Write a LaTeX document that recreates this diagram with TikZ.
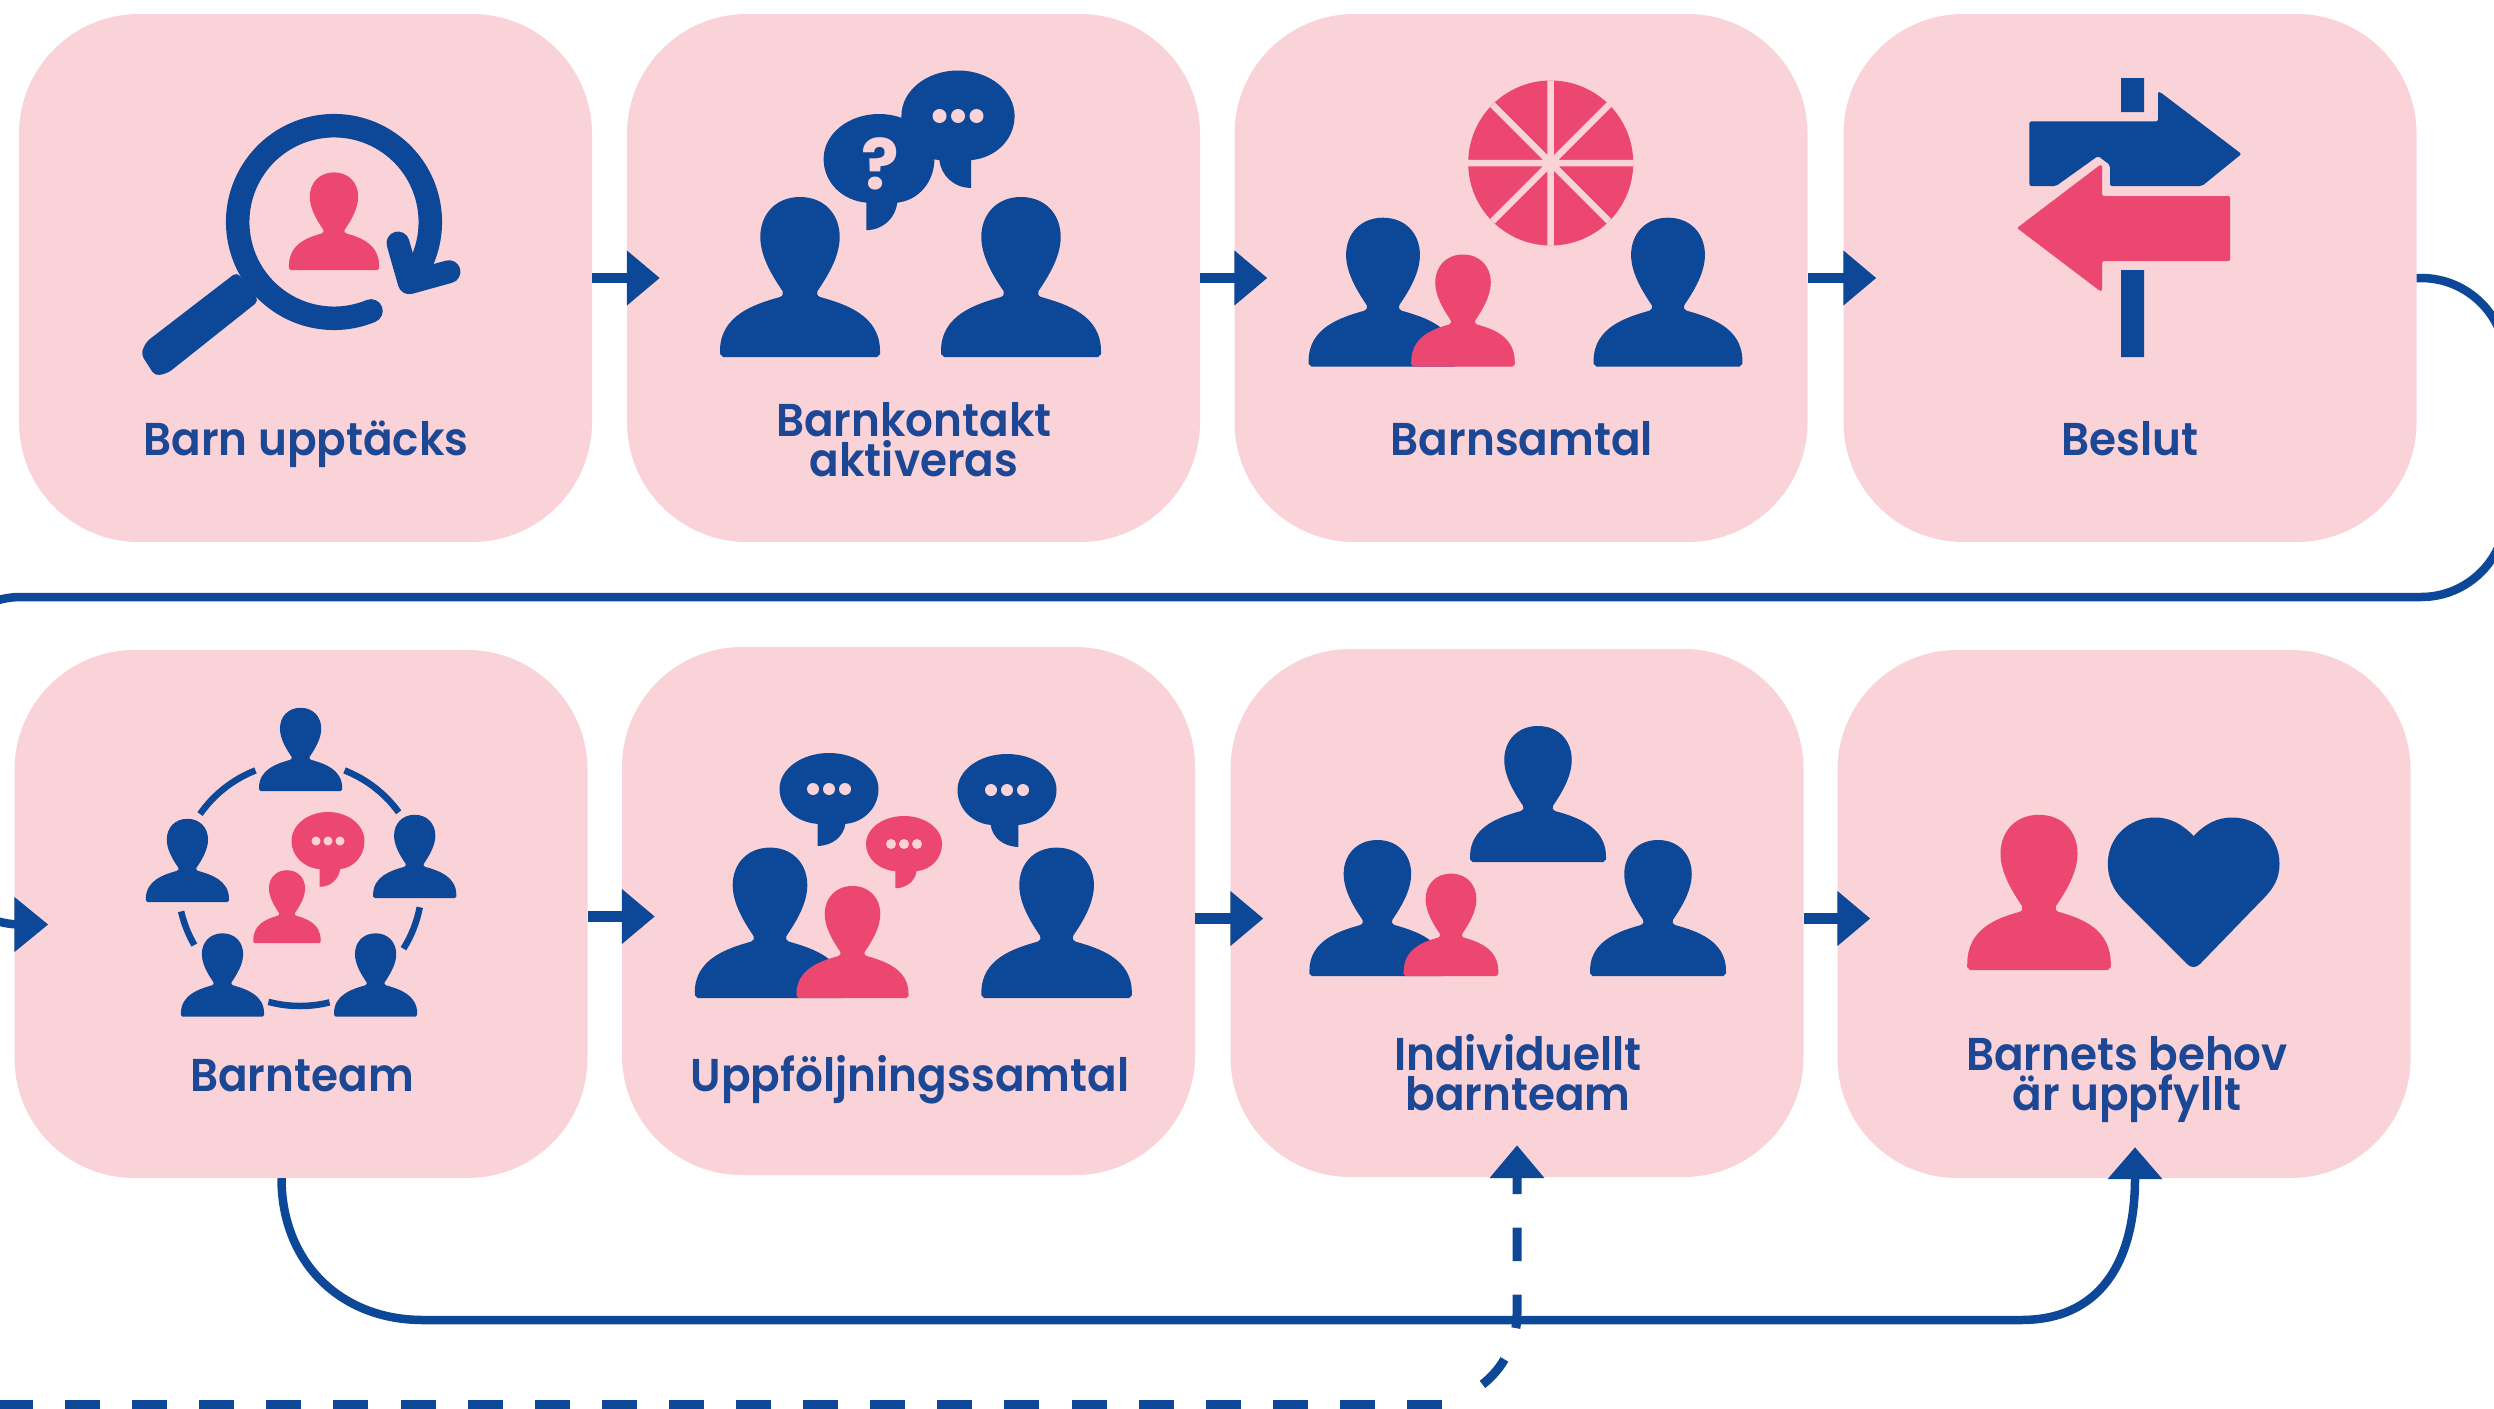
\documentclass[tikz,border=0pt]{standalone}
\usepackage{fontspec}
\setmainfont{Poppins}[UprightFont=* SemiBold,BoldFont=* Bold,FakeStretch=0.95]
\newfontfamily\qfont{Poppins}[UprightFont=* Bold]
\usetikzlibrary{arrows.meta,calc}
\definecolor{boxpink}{HTML}{F9D3D7}
\definecolor{navy}{HTML}{0D4797}
\definecolor{rose}{HTML}{EC4770}
\definecolor{txtblue}{HTML}{1C4794}
% #1 centre x, #2 base y, #3 scale, #4 shoulder half-width, #5 colour
\newcommand{\personicon}[5]{\fill[#5,shift={(#1,#2)},scale=#3]
 (0,-160) .. controls (24,-160) and (39.7,-143) .. (39.7,-120)
 .. controls (39.7,-100) and (27,-80) .. (17.5,-66)
 .. controls (16.5,-63) and (17,-61.5) .. (20,-60)
 .. controls (45,-53) and (#4,-42) .. (#4,-6)
 -- (#4,-3) -- (#4-3,0) -- (-#4+3,0) -- (-#4,-3) -- (-#4,-6)
 .. controls (-#4,-42) and (-45,-53) .. (-20,-60)
 .. controls (-17,-61.5) and (-16.5,-63) .. (-17.5,-66)
 .. controls (-27,-80) and (-39.7,-100) .. (-39.7,-120)
 .. controls (-39.7,-143) and (-24,-160) .. (0,-160) -- cycle;}
\newcommand{\bubbleicon}[5]{\fill[#5,shift={(#1,#2)},xscale=#3,yscale=#4]
 (0,-1) .. controls (.55,-1) and (1,-.56) .. (1,0)
 .. controls (1,.5) and (.72,.92) .. (.33,.97)
 .. controls (.30,1.3) and (.08,1.58) .. (-.23,1.58)
 -- (-.23,.97) .. controls (-.68,.92) and (-1,.5) .. (-1,0)
 .. controls (-1,-.56) and (-.55,-1) .. (0,-1) -- cycle;}
\newcommand{\threedots}[4]{\fill[boxpink] (#1-#3,#2) circle[radius=#4] (#1,#2) circle[radius=#4] (#1+#3,#2) circle[radius=#4];}
\tikzset{
 box/.style={fill=boxpink,draw=none,rounded corners=120pt,minimum width=573pt,minimum height=528pt,inner sep=0pt},
 lbl/.style={text=txtblue,font=\fontsize{46}{40}\selectfont,align=center,inner sep=0pt,anchor=base},
 flow/.style={draw=navy,line width=10.5pt,-{Triangle[length=33pt,width=53pt]},fill=none},
 conn/.style={draw=navy,line width=8.5pt,fill=none},
}
\begin{document}
\begin{tikzpicture}[x=1pt,y=-1pt]
\useasboundingbox (0,0) rectangle (2494,1408);
\clip (0,0) rectangle (2494,1408);
% boxes
\node[box] (b1) at (305.5,278) {};
\node[box] (b2) at (913.5,278) {};
\node[box] (b3) at (1521,278) {};
\node[box] (b4) at (2130,278) {};
\node[box] (b5) at (301,914) {};
\node[box] (b6) at (908.5,911) {};
\node[box] (b7) at (1517,913) {};
\node[box] (b8) at (2124,914) {};
% labels
\node[lbl] (t1) at (306,455) {Barn upptäcks};
\node[lbl] (t2) at (914,476) {Barnkontakt\\aktiveras};
\node[lbl] (t3) at (1522,455) {Barnsamtal};
\node[lbl] (t4) at (2130,455) {Beslut};
\node[lbl] (t5) at (302,1091) {Barnteam};
\node[lbl] (t6) at (910,1091) {Uppföljningssamtal};
\node[lbl] (t7) at (1518,1110) {Individuellt\\barnteam};
\node[lbl] (t8) at (2127,1110) {Barnets behov\\är uppfyllt};
% connectors
\draw[flow] (b1.east) -- ([xshift=33pt]b2.west);
\draw[flow] (b2.east) -- ([xshift=33pt]b3.west);
\draw[flow] (b3.east) -- ([xshift=33pt]b4.west);
\draw[flow] ([yshift=-2.5pt]b5.east) -- ([xshift=33pt,yshift=-5.5pt]b6.west);
\draw[flow] ([yshift=-7.5pt]b6.east) -- ([xshift=33pt,yshift=-5.5pt]b7.west);
\draw[flow] ([yshift=-5.5pt]b7.east) -- ([xshift=33pt,yshift=-4.5pt]b8.west);
\draw[conn,rounded corners=85pt,-{Triangle[length=34pt,width=53pt]}] (b4.east) -- (2506,278) -- (2506,597) -- (-64,597) -- (-64,924.5) -- ([xshift=34pt,yshift=-10.5pt]b5.west);
\draw[conn,-{Triangle[length=32pt,width=53pt]}] ([xshift=-19.5pt]b5.south) .. controls (281.5,1262) and (340,1320) .. (423,1320) -- (2021,1320) .. controls (2100,1320) and (2135,1262) .. (2135,1178) -- ([xshift=11pt,yshift=31pt]b8.south);
\coordinate (dashL) at (-20,1404);
\coordinate (dashM) at (1442,1404);
\draw[conn,line width=9pt,dash pattern=on 33.5pt off 33.5pt,dash phase=15.5pt,{Triangle[length=33pt,width=53pt]}-] ([yshift=32pt]b7.south) -- (1517,1313.5) arc[start angle=0,end angle=72,radius=90];
\draw[conn,line width=9pt,dash pattern=on 35pt off 32.1pt] (dashM) -- (dashL);
% icon 1
\draw[navy,line width=23.5pt,line cap=round] (334,222) ++(35:96.3) arc[start angle=35,end angle=-292.6,radius=96.3];
\draw[navy,line width=23pt,line cap=round,line join=round] (398,243) -- (409.3,282.7) -- (449,271.7);
\fill[navy,rounded corners=5pt] (237,272) -- (259,300.7) -- (168,373) -- (155,376) -- (141,354) -- (146,342) -- cycle;
\personicon{334}{270}{.61}{74}{rose}
% icon 2
\personicon{800}{357}{1}{80}{navy}
\personicon{1021}{357}{1}{80}{navy}
\bubbleicon{958}{116}{-56.6}{45.5}{navy}
\threedots{958}{116}{18.5}{7}
\bubbleicon{879}{159}{55.4}{45}{navy}
\node[text=boxpink,font=\fontsize{70}{70}\selectfont\qfont,inner sep=0pt] (q) at (880,163.5) {?};
% icon 3
\fill[rose] (1550.7,163) circle[radius=82.5];
\draw[boxpink,line width=6.5pt] (1550.7,80.5) -- (1550.7,245.5) (1468.2,163) -- (1633.2,163)
 (1492.4,104.7) -- (1609,221.3) (1609,104.7) -- (1492.4,221.3);
\personicon{1383}{366.5}{.93}{80}{navy}
\personicon{1668}{366.5}{.93}{80}{navy}
\personicon{1463}{366.5}{.7}{74}{rose}
% icon 4
\fill[navy] (2121,78) rectangle (2144,112) (2121,270) rectangle (2144,357);
\fill[navy,rounded corners=2pt] (2029.4,121.4) -- (2158,121.4) -- (2158,92) -- (2160,92) -- (2241.5,154) -- (2202,186) -- (2110,186) -- (2110,165) -- (2098,156) -- (2056,186) -- (2029.4,186) -- cycle;
\fill[rose,rounded corners=1.5pt] (2017,228) -- (2100,165) -- (2102,165) -- (2102,196) -- (2230,196) -- (2230,261) -- (2102,261) -- (2102,291) -- (2100,291) -- cycle;
% icon 5
\begin{scope}[navy,line width=6.5pt]
\draw (300,884) ++(-111.4:122) arc[start angle=-111.4,end angle=-145,radius=122];
\draw (300,884) ++(-68.6:122) arc[start angle=-68.6,end angle=-36,radius=122];
\draw (300,884) ++(11:122) arc[start angle=11,end angle=32,radius=122];
\draw (300,884) ++(167:122) arc[start angle=167,end angle=150,radius=122];
\draw (300,884) ++(105:122) arc[start angle=105,end angle=76,radius=122];
\end{scope}
\personicon{300.6}{791}{.52}{80}{navy}
\personicon{187.4}{902}{.52}{80}{navy}
\personicon{414.7}{898}{.52}{80}{navy}
\personicon{222.5}{1016.5}{.52}{80}{navy}
\personicon{375.6}{1016.5}{.52}{80}{navy}
\personicon{287}{943}{.455}{74}{rose}
\bubbleicon{328}{841}{36.5}{29}{rose}
\threedots{328}{841}{12}{4.5}
% icon 6
\personicon{770}{998}{.94}{80}{navy}
\personicon{1056.6}{998}{.94}{80}{navy}
\personicon{852.5}{998}{.70}{80}{rose}
\bubbleicon{829}{789}{49.5}{36}{navy}
\threedots{829}{789}{16}{6}
\bubbleicon{1007}{790}{-49.5}{36}{navy}
\threedots{1007}{790}{16}{6}
\bubbleicon{904}{844}{38}{28}{rose}
\threedots{904}{844}{13}{5}
% icon 7
\personicon{1538}{862}{.85}{80}{navy}
\personicon{1377.4}{976}{.85}{80}{navy}
\personicon{1658}{976}{.85}{80}{navy}
\personicon{1451}{976}{.64}{74}{rose}
% icon 8
\personicon{2039}{970}{.97}{74}{rose}
\fill[navy] (2193.6,836) .. controls (2182,824) and (2170,817.5) .. (2155,817.5)
 .. controls (2128,817.5) and (2107.8,838) .. (2107.8,863.7)
 .. controls (2107.8,878) and (2113,890) .. (2124,901)
 -- (2187,964) .. controls (2191,968) and (2196,968) .. (2200,964)
 -- (2263,899) .. controls (2274,888) and (2279.5,878) .. (2279.5,863.7)
 .. controls (2279.5,838) and (2259,817.5) .. (2232,817.5)
 .. controls (2217,817.5) and (2205,824) .. (2193.6,836) -- cycle;
\end{tikzpicture}
\end{document}
